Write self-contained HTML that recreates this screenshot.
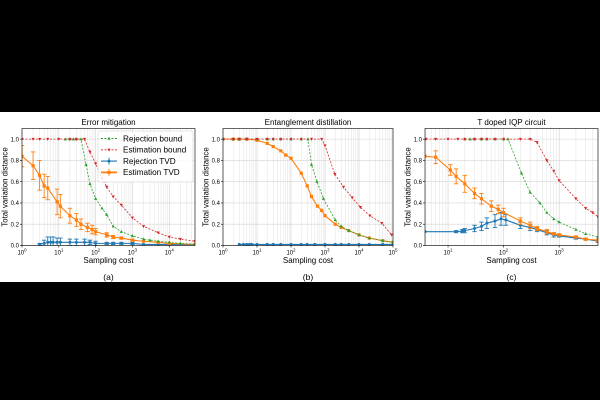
<!DOCTYPE html>
<html><head><meta charset="utf-8"><style>
html,body{margin:0;padding:0;background:#000;}
svg{display:block;font-family:"Liberation Sans","DejaVu Sans",sans-serif;}
</style></head><body>
<svg id="c" width="600" height="400" viewBox="0 0 600 400">
<rect x="0" y="0" width="600" height="400" fill="#000"/>
<rect x="0" y="112" width="600" height="170" fill="#fff"/>
</svg>
<script>
// Panel (a) Error mitigation
const aRejBoundX=[15,20,25,30,40,55,70,100,150,200,300,500,1000,2000,3000,5000,10000,20000,50000];
const aRejBoundY=[1,1,1,1,1,0.76,0.58,0.44,0.35,0.29,0.18,0.13,0.09,0.06,0.05,0.04,0.03,0.02,0.01];
const aEstBoundX=[1,2,3,5,10,20,30,50,70,100,150,200,300,500,1000,2000,5000,10000,20000,50000];
const aEstBoundY=[1,1,1,1,1,1,1,1,0.88,0.77,0.63,0.55,0.46,0.38,0.26,0.18,0.12,0.08,0.06,0.04];
const aRejTvdX=[3,4,5,6,7,9,11,20,30,50,70,100,200,300,500,1000,2000,5000,10000,50000];
const aRejTvdY=[0.01,0.02,0.03,0.03,0.03,0.03,0.03,0.03,0.03,0.03,0.03,0.02,0.02,0.02,0.02,0.02,0.01,0.01,0.01,0.01];
const aRejTvdE=[0.01,0.03,0.05,0.05,0.05,0.04,0.04,0.03,0.03,0.03,0.02,0.02,0.01,0.01,0.01,0.01,0,0,0,0];
const aEstTvdX=[1,2,3,4,5,9,11,20,30,40,60,80,100,200,300,500,1000,2000,5000,10000,50000];
const aEstTvdY=[0.84,0.75,0.66,0.56,0.54,0.41,0.37,0.28,0.24,0.2,0.17,0.15,0.13,0.1,0.08,0.07,0.05,0.04,0.03,0.02,0.01];
const aEstTvdE=[0.1,0.13,0.14,0.11,0.11,0.12,0.11,0.07,0.06,0.05,0.04,0.04,0.03,0.02,0.015,0.01,0.01,0,0,0,0];
// Panel (b) Entanglement distillation
const bRejBoundX=[1,2,3,5,10,20,30,50,100,200,316,400,580,900,2000,3000,5000,10000,20000,50000,100000];
const bRejBoundY=[1,1,1,1,1,1,1,1,1,1,1,0.76,0.6,0.44,0.24,0.18,0.14,0.1,0.07,0.045,0.03];
const bEstBoundX=[1,2,3,5,10,20,30,50,100,200,400,800,1000,1950,3500,6300,11000,21000,47000,91000];
const bEstBoundY=[1,1,1,1,1,1,1,1,1,1,1,1,0.94,0.67,0.55,0.45,0.36,0.28,0.21,0.1];
const bRejTvdX=[3,4,5,6,7,10,20,30,50,100,200,300,500,1000,2000,3000,5000,10000,20000,50000,100000];
const bRejTvdY=[0.01,0.01,0.01,0.01,0.01,0.01,0.01,0.01,0.01,0.01,0.01,0.01,0.01,0.01,0.01,0.01,0.01,0.01,0.01,0.01,0.01];
const bEstTvdX=[1,2,3,5,10,20,30,50,70,100,200,300,400,600,800,1000,2000,3000,5000,10000,20000,50000,100000];
const bEstTvdY=[1,1,1,1,0.99,0.96,0.93,0.89,0.85,0.82,0.68,0.56,0.46,0.37,0.33,0.28,0.2,0.17,0.14,0.1,0.07,0.045,0.03];
// Panel (c) T doped IQP circuit
const cRejBoundX=[20,25,30,40,50,70,100,120,210,300,450,600,800,1000,2000,3000,5000];
const cRejBoundY=[1,1,1,1,1,1,1,1,0.68,0.5,0.4,0.31,0.25,0.22,0.15,0.11,0.08];
const cEstBoundX=[4,6,10,15,20,30,40,50,70,100,200,300,400,600,800,1000,2000,3000,4000,5000];
const cEstBoundY=[1,1,1,1,1,1,1,1,1,1,1,1,0.97,0.8,0.7,0.61,0.44,0.35,0.31,0.27];
const cRejTvdX=[3.85,14,18,20,30,40,50,70,90,110,200,300,400,600,800,1000,2000,3000,5000];
const cRejTvdY=[0.13,0.13,0.135,0.14,0.16,0.18,0.21,0.23,0.25,0.24,0.19,0.17,0.15,0.12,0.1,0.09,0.07,0.06,0.04];
const cRejTvdE=[0,0.01,0.015,0.02,0.03,0.04,0.05,0.06,0.06,0.05,0.03,0.03,0.02,0.02,0.02,0.01,0.01,0.01,0.01];
const cEstTvdX=[3.85,6,11,14,20,30,40,60,80,100,200,300,400,600,800,1000,2000,3000,5000];
const cEstTvdY=[0.84,0.83,0.71,0.65,0.58,0.49,0.44,0.37,0.34,0.31,0.23,0.19,0.16,0.13,0.11,0.1,0.08,0.06,0.05];
const cEstTvdE=[0,0.06,0.05,0.07,0.08,0.05,0.05,0.05,0.04,0.04,0.03,0.03,0.02,0.02,0.01,0.01,0.01,0.01,0.01];
const titles=["Error mitigation","Entanglement distillation","T doped IQP circuit"];
const captions=["(a)","(b)","(c)"];
const yTicks=[0,0.2,0.4,0.6,0.8,1.0];
const yTickLabels=["0.0","0.2","0.4","0.6","0.8","1.0"];

const NS="http://www.w3.org/2000/svg";
const svg=document.getElementById('c');
function mk(tag,attrs,parent){const e=document.createElementNS(NS,tag);for(const k in attrs)e.setAttribute(k,attrs[k]);(parent||svg).appendChild(e);return e;}

const panels=[
 {L:22,R:195,xmin:1,xmax:50000,decs:[0,1,2,3,4],key:'a',
  rb:[aRejBoundX,aRejBoundY],eb:[aEstBoundX,aEstBoundY],rt:[aRejTvdX,aRejTvdY,aRejTvdE],et:[aEstTvdX,aEstTvdY,aEstTvdE]},
 {L:223,R:393,xmin:1,xmax:100000,decs:[0,1,2,3,4,5],key:'b',
  rb:[bRejBoundX,bRejBoundY],eb:[bEstBoundX,bEstBoundY],rt:[bRejTvdX,bRejTvdY,null],et:[bEstTvdX,bEstTvdY,null]},
 {L:425,R:598,xmin:3.85,xmax:5000,decs:[1,2,3],key:'c',
  rb:[cRejBoundX,cRejBoundY],eb:[cEstBoundX,cEstBoundY],rt:[cRejTvdX,cRejTvdY,cRejTvdE],et:[cEstTvdX,cEstTvdY,cEstTvdE]}
];
const T=128.5,B=245.5,YMAX=1.1;
panels.forEach((p,i)=>{
 const g=mk('g',{});
 
 
 const lx=Math.log10(p.xmin),hx=Math.log10(p.xmax);
 const X=v=>p.L+(Math.log10(v)-lx)/(hx-lx)*(p.R-p.L);
 const Y=v=>B-v/YMAX*(B-T);
 for(let d=Math.floor(lx);d<=Math.ceil(hx);d++){for(let m=1;m<10;m++){const v=m*Math.pow(10,d);if(v<p.xmin||v>p.xmax)continue;
   const gl=mk('line',{x1:X(v),x2:X(v),y1:T,y2:B,stroke:m===1?'#cfcfcf':'#e6e6e6','stroke-width':0.6},g);
   }}
 yTicks.forEach((t,k)=>{const gl=mk('line',{x1:p.L,x2:p.R,y1:Y(t),y2:Y(t),stroke:'#d4d4d4','stroke-width':0.6},g);
   
   mk('line',{x1:p.L-2,x2:p.L,y1:Y(t),y2:Y(t),stroke:'#000','stroke-width':0.6},g);
   const tl=mk('text',{x:p.L-3,y:Y(t)+2.2,'font-size':6,'text-anchor':'end',fill:'#000'},g);tl.textContent=yTickLabels[k];
   });
 p.decs.forEach(d=>{const v=Math.pow(10,d);mk('line',{x1:X(v),x2:X(v),y1:B,y2:B+2,stroke:'#000','stroke-width':0.6},g);
   const tl=mk('text',{x:X(v),y:B+9,'font-size':6,'text-anchor':'middle',fill:'#000'},g);
   tl.innerHTML='10<tspan dy="-2.8" font-size="4.3">'+d+'</tspan>';
   });
 const clip='clip'+i;const cp=mk('clipPath',{id:clip},g);mk('rect',{x:p.L,y:T,width:p.R-p.L,height:B-T},cp);
 const sg=mk('g',{'clip-path':'url(#'+clip+')'},g);
 function series(xs,ys,es,color,dash,marker,lw,name){
  const s=mk('g',{},sg);
  mk('polyline',{points:xs.map((x,k)=>X(x)+','+Y(ys[k])).join(' '),fill:'none',stroke:color,'stroke-width':lw,'stroke-dasharray':dash},s);
  xs.forEach((x,k)=>{const cx=X(x),cy=Y(ys[k]);
   if(es&&es[k]>0){mk('line',{x1:cx,x2:cx,y1:Y(ys[k]-es[k]),y2:Y(ys[k]+es[k]),stroke:color,'stroke-width':0.9},s);
    [ys[k]-es[k],ys[k]+es[k]].forEach(v=>mk('line',{x1:cx-2.2,x2:cx+2.2,y1:Y(v),y2:Y(v),stroke:color,'stroke-width':0.9},s));}
   let m;
   if(marker==='^')m=mk('path',{d:`M${cx},${cy-1.8}L${cx+1.6},${cy+1.2}L${cx-1.6},${cy+1.2}Z`,fill:color},s);
   else if(marker==='v')m=mk('path',{d:`M${cx},${cy+1.8}L${cx+1.6},${cy-1.2}L${cx-1.6},${cy-1.2}Z`,fill:color},s);
   else if(marker==='s')m=mk('rect',{x:cx-1.6,y:cy-1.6,width:3.2,height:3.2,fill:color},s);
   else m=mk('circle',{cx:cx,cy:cy,r:1.5,fill:color},s);
   });
 }
 series(p.rt[0],p.rt[1],p.rt[2],'#1f77b4','',  'o',1.1,'rejection-tvd');
 series(p.et[0],p.et[1],p.et[2],'#ff7f0e','',  's',1.1,'estimation-tvd');
 series(p.rb[0],p.rb[1],null,'#2ca02c','2,1.5','^',0.8,'rejection-bound');
 series(p.eb[0],p.eb[1],null,'#d62728','2,1.5','v',0.8,'estimation-bound');
 const fr=mk('rect',{x:p.L,y:T,width:p.R-p.L,height:B-T,fill:'none',stroke:'#000','stroke-width':0.6},g);
 
 const cx=(p.L+p.R)/2;
 const tt=mk('text',{x:cx,y:125,'font-size':8,'text-anchor':'middle'},g);tt.textContent=titles[i];
 
 const xl=mk('text',{x:cx,y:263,'font-size':8,'text-anchor':'middle'},g);xl.textContent='Sampling cost';
 
 const yl=mk('text',{x:0,y:0,'font-size':7.8,'text-anchor':'middle',transform:`translate(${p.L-14.5},${(T+B)/2}) rotate(-90)`},g);yl.textContent='Total variation distance';
 
 const cap=mk('text',{x:cx,y:280,'font-size':8.5,'text-anchor':'middle'},g);cap.textContent=captions[i];
 
});
const leg=mk('g',{});


mk('rect',{x:98,y:131,width:95,height:51,fill:'#fff','fill-opacity':0.85,stroke:'#ccc','stroke-width':0.5,rx:1.5},leg);
const legNames=["Rejection bound","Estimation bound","Rejection TVD","Estimation TVD"];
const legColors=['#2ca02c','#d62728','#1f77b4','#ff7f0e'];
legNames.forEach((n,k)=>{const y=138.5+k*11.3;const e=mk('g',{},leg);
 
 mk('line',{x1:101,x2:117,y1:y,y2:y,stroke:legColors[k],'stroke-width':k<2?0.9:(k===3?1.8:1.1),'stroke-dasharray':k<2?'2,1.5':''},e);
 if(k===0)mk('path',{d:`M109,${y-1.8}L110.6,${y+1.2}L107.4,${y+1.2}Z`,fill:legColors[k]},e);
 if(k===1)mk('path',{d:`M109,${y+1.8}L110.6,${y-1.2}L107.4,${y-1.2}Z`,fill:legColors[k]},e);
 if(k===2){mk('circle',{cx:109,cy:y,r:1.5,fill:legColors[k]},e);mk('line',{x1:109,x2:109,y1:y-3.5,y2:y+3.5,stroke:legColors[k],'stroke-width':0.9},e);}
 if(k===3){mk('rect',{x:107.4,y:y-1.6,width:3.2,height:3.2,fill:legColors[k]},e);mk('line',{x1:109,x2:109,y1:y-3.5,y2:y+3.5,stroke:legColors[k],'stroke-width':0.9},e);}
 const t=mk('text',{x:123,y:y+2.8,'font-size':8.2},e);t.textContent=n;});
</script>
</body></html>
